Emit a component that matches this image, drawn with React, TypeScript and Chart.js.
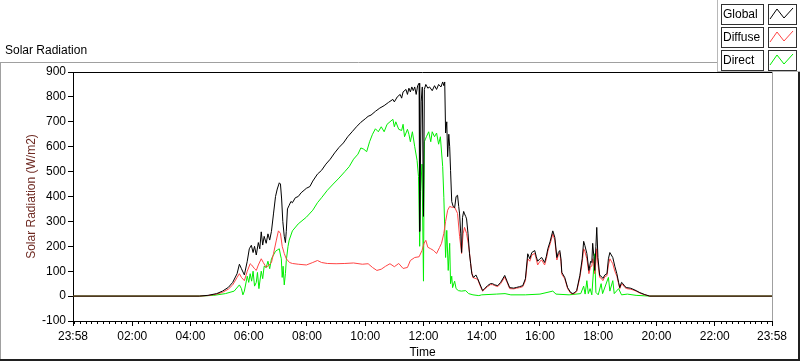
import React, { useEffect, useRef } from 'react';
import { Chart, registerables } from 'chart.js';
Chart.register(...registerables);

const FONT = "'Liberation Sans', Arial, sans-serif";

// x axis (minutes from midnight), labels
const xTickMinutes = [-2, 120, 240, 360, 480, 600, 720, 840, 960, 1080, 1200, 1320, 1438];
const xTickLabels = ['23:58', '02:00', '04:00', '06:00', '08:00', '10:00', '12:00', '14:00', '16:00', '18:00', '20:00', '22:00', '23:58'];
const yMin = -100;
const yMax = 900;
const yStep = 100;

// Global radiation (time in hours, W/m2)
const globalHours = [-0.05, 4.3, 4.6, 4.9, 5.1, 5.3, 5.45, 5.6, 5.68, 5.75, 5.85, 5.95, 6.02, 6.09, 6.15, 6.2, 6.26, 6.33, 6.38, 6.43, 6.48, 6.53, 6.6, 6.66, 6.72, 6.78, 6.85, 6.92, 6.98, 7.05, 7.09, 7.13, 7.17, 7.22, 7.26, 7.29, 7.33, 7.39, 7.45, 7.5, 7.6, 7.7, 7.8, 7.9, 7.98, 8.1, 8.2, 8.36, 8.5, 8.65, 8.8, 8.95, 9.1, 9.25, 9.4, 9.55, 9.7, 9.85, 10.0, 10.1, 10.2, 10.35, 10.5, 10.65, 10.8, 10.95, 11.0, 11.1, 11.2, 11.25, 11.3, 11.4, 11.45, 11.5, 11.55, 11.6, 11.65, 11.7, 11.75, 11.8, 11.85, 11.87, 11.92, 11.96, 12.0, 12.03, 12.08, 12.15, 12.21, 12.3, 12.38, 12.45, 12.52, 12.6, 12.66, 12.7, 12.73, 12.76, 12.8, 12.83, 12.87, 12.9, 12.93, 12.97, 13.02, 13.07, 13.12, 13.17, 13.21, 13.24, 13.28, 13.31, 13.34, 13.38, 13.41, 13.45, 13.48, 13.53, 13.58, 13.62, 13.66, 13.72, 13.8, 13.86, 13.95, 14.03, 14.1, 14.2, 14.3, 14.37, 14.45, 14.55, 14.65, 14.79, 14.87, 14.96, 15.1, 15.2, 15.3, 15.41, 15.5, 15.58, 15.65, 15.72, 15.82, 15.87, 15.92, 16.0, 16.06, 16.16, 16.22, 16.27, 16.35, 16.44, 16.51, 16.58, 16.63, 16.68, 16.72, 16.75, 16.85, 16.95, 17.05, 17.13, 17.2, 17.26, 17.37, 17.45, 17.5, 17.54, 17.61, 17.68, 17.74, 17.78, 17.81, 17.85, 17.88, 17.92, 17.95, 17.99, 18.05, 18.1, 18.16, 18.23, 18.3, 18.35, 18.4, 18.45, 18.5, 18.57, 18.64, 18.7, 18.74, 18.8, 18.85, 18.92, 18.98, 19.1, 19.19, 19.3, 19.43, 19.6, 19.77, 23.97];
const globalValues = [0, 0, 3, 10, 20, 35, 55, 90, 128, 110, 85, 140, 190, 204, 175, 200, 165, 215, 190, 258, 205, 240, 212, 250, 225, 260, 330, 400, 430, 455, 450, 390, 300, 240, 215, 260, 350, 365, 380, 375, 395, 400, 415, 425, 433, 440, 462, 490, 505, 530, 550, 575, 597, 615, 640, 660, 680, 698, 712, 722, 727, 742, 755, 765, 778, 790, 780, 800, 810, 795, 820, 830, 810, 835, 820, 840, 825, 840, 810, 845, 855, 260, 780, 840, 320, 830, 850, 835, 840, 825, 845, 830, 850, 840, 860, 845, 860, 655, 700, 560, 650, 600, 505, 380, 360, 355, 400, 405, 360, 330, 250, 175, 315, 340, 330, 320, 310, 250, 170, 130, 90, 75, 85, 70, 45, 22, 30, 42, 50, 50, 45, 42, 55, 83, 60, 34, 32, 35, 38, 42, 70, 170, 150, 175, 183, 160, 140, 150, 155, 135, 160, 190, 220, 262, 236, 155, 175, 183, 150, 95, 75, 34, 15, 10, 15, 22, 83, 150, 220, 204, 171, 103, 140, 135, 212, 160, 103, 200, 276, 155, 83, 80, 71, 85, 90, 150, 175, 165, 155, 120, 90, 55, 34, 55, 50, 38, 34, 32, 28, 22, 14, 6, 0, 0];

// Diffuse radiation
const diffuseHours = [-0.05, 4.3, 4.6, 4.9, 5.1, 5.3, 5.45, 5.6, 5.68, 5.75, 5.85, 5.95, 6.05, 6.1, 6.2, 6.26, 6.33, 6.43, 6.5, 6.6, 6.7, 6.78, 6.85, 6.95, 7.02, 7.09, 7.15, 7.22, 7.29, 7.4, 7.5, 7.7, 7.98, 8.2, 8.36, 8.5, 8.7, 9.0, 9.3, 9.6, 9.9, 10.1, 10.25, 10.4, 10.55, 10.7, 10.85, 11.0, 11.15, 11.3, 11.45, 11.55, 11.7, 11.85, 11.95, 12.02, 12.08, 12.15, 12.25, 12.35, 12.45, 12.55, 12.62, 12.7, 12.76, 12.83, 12.9, 12.97, 13.07, 13.17, 13.24, 13.31, 13.36, 13.41, 13.48, 13.54, 13.58, 13.64, 13.69, 13.8, 13.86, 13.95, 14.03, 14.1, 14.2, 14.3, 14.37, 14.45, 14.55, 14.65, 14.79, 14.87, 14.96, 15.1, 15.2, 15.3, 15.41, 15.5, 15.58, 15.65, 15.72, 15.82, 15.87, 15.92, 16.0, 16.06, 16.16, 16.22, 16.27, 16.35, 16.44, 16.51, 16.58, 16.63, 16.68, 16.72, 16.75, 16.85, 16.95, 17.05, 17.13, 17.2, 17.26, 17.37, 17.45, 17.5, 17.54, 17.61, 17.68, 17.74, 17.78, 17.81, 17.85, 17.88, 17.92, 17.95, 17.99, 18.05, 18.1, 18.16, 18.23, 18.3, 18.35, 18.4, 18.45, 18.5, 18.57, 18.64, 18.7, 18.74, 18.8, 18.85, 18.92, 18.98, 19.1, 19.19, 19.3, 19.43, 19.6, 19.77, 23.97];
const diffuseValues = [0, 0, 2, 8, 15, 28, 45, 75, 90, 75, 62, 100, 130, 125, 110, 103, 125, 150, 135, 115, 125, 135, 170, 225, 262, 252, 200, 171, 150, 135, 131, 128, 125, 135, 143, 135, 131, 130, 131, 133, 128, 130, 115, 103, 108, 120, 130, 118, 131, 111, 115, 143, 155, 158, 183, 212, 224, 196, 190, 183, 171, 195, 212, 252, 300, 345, 360, 357, 357, 332, 240, 171, 250, 276, 252, 210, 175, 110, 75, 70, 68, 40, 20, 27, 38, 46, 46, 42, 38, 50, 76, 55, 30, 29, 32, 34, 38, 62, 150, 140, 165, 172, 150, 125, 140, 145, 125, 150, 180, 210, 250, 225, 145, 165, 175, 140, 88, 70, 30, 12, 8, 12, 18, 75, 135, 190, 180, 150, 90, 120, 120, 150, 130, 90, 140, 190, 130, 75, 72, 62, 78, 82, 125, 150, 140, 130, 100, 80, 50, 30, 48, 45, 34, 30, 28, 25, 20, 12, 5, 0, 0];

// Direct radiation
const directHours = [-0.05, 4.3, 4.8, 5.2, 5.5, 5.68, 5.75, 5.8, 5.85, 5.95, 6.0, 6.05, 6.1, 6.15, 6.2, 6.26, 6.3, 6.35, 6.43, 6.48, 6.53, 6.6, 6.66, 6.72, 6.78, 6.85, 6.92, 6.98, 7.05, 7.09, 7.12, 7.15, 7.18, 7.22, 7.26, 7.29, 7.35, 7.39, 7.5, 7.7, 7.98, 8.2, 8.36, 8.5, 8.7, 8.9, 9.1, 9.3, 9.45, 9.6, 9.75, 9.85, 9.95, 10.05, 10.15, 10.25, 10.35, 10.45, 10.55, 10.65, 10.75, 10.85, 10.95, 11.0, 11.05, 11.15, 11.25, 11.3, 11.35, 11.45, 11.5, 11.55, 11.62, 11.7, 11.78, 11.83, 11.87, 11.9, 11.95, 12.0, 12.03, 12.1, 12.18, 12.25, 12.3, 12.38, 12.45, 12.52, 12.58, 12.66, 12.7, 12.76, 12.8, 12.85, 12.9, 12.93, 12.97, 13.0, 13.07, 13.12, 13.2, 13.3, 13.45, 13.55, 13.7, 13.9, 14.0, 14.5, 14.8, 15.0, 15.5, 16.0, 16.44, 16.55, 17.0, 17.4, 17.5, 17.55, 17.61, 17.66, 17.72, 17.78, 17.88, 17.92, 18.0, 18.1, 18.15, 18.35, 18.4, 18.5, 18.55, 18.7, 18.8, 19.0, 19.3, 19.77, 23.97];
const directValues = [0, 0, 3, 10, 20, 45, 30, 5, 20, 80, 55, 90, 60, 100, 40, 55, 95, 30, 100, 70, 120, 115, 140, 110, 150, 165, 180, 185, 190, 165, 150, 75, 120, 45, 90, 143, 200, 225, 262, 290, 317, 345, 375, 395, 425, 450, 474, 500, 520, 550, 570, 595, 590, 580, 620, 650, 672, 660, 680, 660, 690, 700, 710, 680, 700, 670, 665, 690, 640, 670, 650, 620, 660, 600, 545, 480, 200, 420, 530, 60, 620, 640, 660, 620, 660, 640, 655, 610, 640, 520, 395, 155, 264, 103, 212, 50, 80, 34, 60, 30, 22, 20, 22, 10, 5, 2, 5, 8, 10, 5, 5, 8, 20, 8, 5, 10, 40, 8, 62, 10, 30, 5, 170, 15, 5, 50, 10, 75, 20, 62, 10, 30, 5, 8, 3, 0, 0];

const legendItems = ['Global', 'Diffuse', 'Direct'];
const seriesColors = ['#000000', '#ff4444', '#00ee00'];

const toPoints = (hours: number[], values: number[]) =>
  hours.map((h, i) => ({ x: Math.round(h * 60 * 10) / 10, y: values[i] }));

const framePlugin = {
  id: 'labviewFrame',
  afterDraw(chart: any) {
    const ctx = chart.ctx as CanvasRenderingContext2D;
    const { left, top, right, bottom } = chart.chartArea;
    const W = chart.width;
    const H = chart.height;
    ctx.save();
    // minor ticks on x axis
    const xs = chart.scales.x;
    ctx.strokeStyle = '#000';
    ctx.lineWidth = 1;
    for (let m = 0; m <= 1438; m += 12) {
      if (m % 120 === 0 && m !== 0) continue;
      const px = Math.round(xs.getPixelForValue(m)) + 0.5;
      ctx.beginPath();
      ctx.moveTo(px, bottom);
      ctx.lineTo(px, bottom + 3);
      ctx.stroke();
    }
    // plot top border (black) and right border (grey)
    ctx.strokeStyle = '#000';
    ctx.beginPath();
    ctx.moveTo(left, Math.round(top) + 0.5);
    ctx.lineTo(right, Math.round(top) + 0.5);
    ctx.stroke();
    ctx.strokeStyle = '#a0a0a0';
    ctx.beginPath();
    ctx.moveTo(Math.round(right) + 0.5, top);
    ctx.lineTo(Math.round(right) + 0.5, bottom);
    ctx.stroke();
    // outer frame
    ctx.strokeStyle = '#a0a0a0';
    ctx.beginPath();
    ctx.moveTo(0, 62.5);
    ctx.lineTo(717, 62.5);
    ctx.moveTo(0.5, 62);
    ctx.lineTo(0.5, H);
    ctx.stroke();
    ctx.strokeStyle = '#202020';
    ctx.lineWidth = 2;
    ctx.beginPath();
    ctx.moveTo(0, H - 1);
    ctx.lineTo(W, H - 1);
    ctx.moveTo(W - 1, 72);
    ctx.lineTo(W - 1, H);
    ctx.stroke();
    ctx.lineWidth = 1;
    // chart title
    ctx.fillStyle = '#000';
    ctx.font = `12px ${FONT}`;
    ctx.textAlign = 'left';
    ctx.textBaseline = 'middle';
    ctx.fillText('Solar Radiation', 5, 51);
    // legend panel
    ctx.fillStyle = '#ffffff';
    ctx.fillRect(717, 0, W - 717, 72);
    ctx.strokeStyle = '#b8b8b8';
    ctx.beginPath();
    ctx.moveTo(717.5, 0);
    ctx.lineTo(717.5, 72);
    ctx.moveTo(717, 71.5);
    ctx.lineTo(W, 71.5);
    ctx.stroke();
    const tops = [4, 27, 50];
    legendItems.forEach((label, i) => {
      const t = tops[i];
      ctx.strokeStyle = '#303030';
      ctx.strokeRect(721.5, t + 0.5, 42, 20);
      ctx.strokeRect(768.5, t + 0.5, 28, 20);
      ctx.fillStyle = '#000';
      ctx.font = `12px ${FONT}`;
      ctx.textAlign = 'left';
      ctx.textBaseline = 'middle';
      ctx.fillText(label, 723, t + 11);
      ctx.strokeStyle = seriesColors[i];
      ctx.beginPath();
      ctx.moveTo(770, t + 15);
      ctx.lineTo(777, t + 5);
      ctx.lineTo(784, t + 14);
      ctx.lineTo(793, t + 4);
      ctx.stroke();
    });
    ctx.restore();
  },
};

export default function App() {
  const canvasRef = useRef<HTMLCanvasElement | null>(null);

  useEffect(() => {
    const canvas = canvasRef.current;
    if (!canvas) return;
    const chart = new Chart(canvas, {
      type: 'line',
      data: {
        datasets: [
          {
            label: legendItems[0],
            data: toPoints(globalHours, globalValues),
            borderColor: seriesColors[0],
            borderWidth: 1,
            pointRadius: 0,
            tension: 0,
            fill: false,
          },
          {
            label: legendItems[1],
            data: toPoints(diffuseHours, diffuseValues),
            borderColor: seriesColors[1],
            borderWidth: 1,
            pointRadius: 0,
            tension: 0,
            fill: false,
          },
          {
            label: legendItems[2],
            data: toPoints(directHours, directValues),
            borderColor: seriesColors[2],
            borderWidth: 1,
            pointRadius: 0,
            tension: 0,
            fill: false,
          },
        ],
      },
      options: {
        responsive: false,
        animation: false,
        events: [],
        layout: { padding: { left: 0, top: 72, right: 28, bottom: 0 } },
        plugins: { legend: { display: false }, tooltip: { enabled: false }, title: { display: false } },
        scales: {
          x: {
            type: 'linear',
            min: xTickMinutes[0],
            max: xTickMinutes[xTickMinutes.length - 1],
            afterBuildTicks: (scale: any) => {
              scale.ticks = xTickMinutes.map((v) => ({ value: v }));
            },
            afterFit: (scale: any) => {
              scale.height = 40;
              scale.paddingLeft = 0;
              scale.paddingRight = 0;
            },
            ticks: {
              autoSkip: false,
              maxRotation: 0,
              minRotation: 0,
              padding: 3,
              color: '#000',
              font: { family: FONT, size: 12 },
              callback: (_v: any, i: number) => xTickLabels[i],
            },
            grid: { drawOnChartArea: false, drawTicks: true, tickLength: 5, color: '#000' },
            border: { display: true, color: '#000' },
            title: {
              display: true,
              text: 'Time',
              color: '#000',
              font: { family: FONT, size: 12 },
              padding: { top: 0, bottom: 1 },
            },
          },
          y: {
            type: 'linear',
            min: yMin,
            max: yMax,
            afterFit: (scale: any) => {
              scale.width = 73;
            },
            ticks: {
              stepSize: yStep,
              padding: 2,
              color: '#000',
              font: { family: FONT, size: 12 },
            },
            grid: { drawOnChartArea: false, drawTicks: true, tickLength: 5, color: '#000' },
            border: { display: true, color: '#000' },
            title: {
              display: true,
              text: 'Solar Radiation (W/m2)',
              color: '#6e2a22',
              font: { family: FONT, size: 12 },
              padding: { top: 24, bottom: 0 },
            },
          },
        },
      },
      plugins: [framePlugin],
    });
    return () => chart.destroy();
  }, []);

  return (
    <div style={{ position: 'fixed', left: 0, top: 0, width: 800, height: 361, background: '#fff' }}>
      <canvas ref={canvasRef} width={800} height={361} style={{ display: 'block' }} />
    </div>
  );
}
